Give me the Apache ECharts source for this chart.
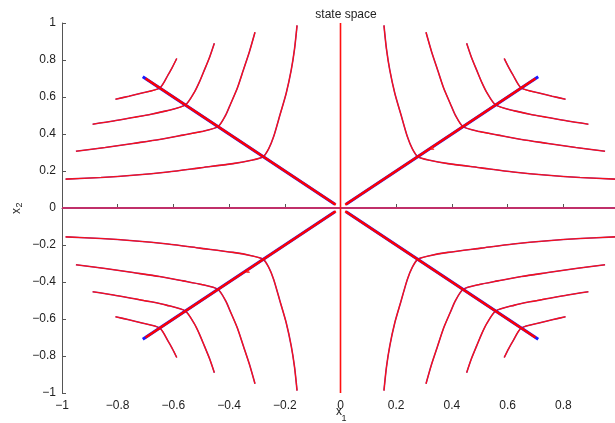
<!DOCTYPE html>
<html>
<head>
<meta charset="utf-8">
<script src="https://cdn.jsdelivr.net/npm/echarts@6/dist/echarts.min.js"></script>
<style>
html,body{margin:0;padding:0;background:#fff;}
#chart{width:615px;height:423px;}
</style>
</head>
<body>
<div id="chart"></div>
<script>
// Axis ranges / ticks
const xRange = [-1, 1];
const yRange = [-1, 1];
const tickStep = 0.2;

// Trajectories, quadrant II (x<0, y>0)
const trajA_Q2 = [[-0.987,0.156],[-0.86,0.165],[-0.745,0.177],[-0.62,0.195],[-0.505,0.217],[-0.386,0.24],[-0.32,0.258],[-0.278,0.277],[-0.258,0.32],[-0.24,0.386],[-0.217,0.505],[-0.195,0.62],[-0.177,0.745],[-0.165,0.86],[-0.156,0.987]];
const trajB_Q2 = [[-0.95,0.307],[-0.845,0.327],[-0.745,0.349],[-0.65,0.37],[-0.565,0.394],[-0.50,0.413],[-0.44,0.44],[-0.413,0.50],[-0.394,0.565],[-0.37,0.65],[-0.349,0.745],[-0.327,0.845],[-0.307,0.95]];
const trajC_Q2 = [[-0.89,0.453],[-0.815,0.47],[-0.745,0.489],[-0.68,0.507],[-0.625,0.525],[-0.557,0.557],[-0.525,0.625],[-0.507,0.68],[-0.489,0.745],[-0.47,0.815],[-0.453,0.89]];
const trajD_Q2 = [[-0.808,0.588],[-0.76,0.604],[-0.72,0.619],[-0.649,0.649],[-0.619,0.72],[-0.604,0.76],[-0.588,0.808]];

// Quadrant I (x>0, y>0)
const trajA_Q1 = [[0.987,0.156],[0.86,0.165],[0.745,0.177],[0.62,0.195],[0.505,0.217],[0.386,0.24],[0.32,0.258],[0.278,0.277],[0.258,0.32],[0.24,0.386],[0.217,0.505],[0.195,0.62],[0.177,0.745],[0.165,0.86],[0.156,0.987]];
const trajB_Q1 = [[0.95,0.307],[0.845,0.327],[0.745,0.349],[0.65,0.37],[0.565,0.394],[0.50,0.413],[0.44,0.44],[0.413,0.50],[0.394,0.565],[0.37,0.65],[0.349,0.745],[0.327,0.845],[0.307,0.95]];
const trajC_Q1 = [[0.89,0.453],[0.815,0.47],[0.745,0.489],[0.68,0.507],[0.625,0.525],[0.557,0.557],[0.525,0.625],[0.507,0.68],[0.489,0.745],[0.47,0.815],[0.453,0.89]];
const trajD_Q1 = [[0.808,0.588],[0.76,0.604],[0.72,0.619],[0.649,0.649],[0.619,0.72],[0.604,0.76],[0.588,0.808]];

// Quadrant III (x<0, y<0)
const trajA_Q3 = [[-0.987,-0.156],[-0.86,-0.165],[-0.745,-0.177],[-0.62,-0.195],[-0.505,-0.217],[-0.386,-0.24],[-0.32,-0.258],[-0.278,-0.277],[-0.258,-0.32],[-0.24,-0.386],[-0.217,-0.505],[-0.195,-0.62],[-0.177,-0.745],[-0.165,-0.86],[-0.156,-0.987]];
const trajB_Q3 = [[-0.95,-0.307],[-0.845,-0.327],[-0.745,-0.349],[-0.65,-0.37],[-0.565,-0.394],[-0.50,-0.413],[-0.44,-0.44],[-0.413,-0.50],[-0.394,-0.565],[-0.37,-0.65],[-0.349,-0.745],[-0.327,-0.845],[-0.307,-0.95]];
const trajC_Q3 = [[-0.89,-0.453],[-0.815,-0.47],[-0.745,-0.489],[-0.68,-0.507],[-0.625,-0.525],[-0.557,-0.557],[-0.525,-0.625],[-0.507,-0.68],[-0.489,-0.745],[-0.47,-0.815],[-0.453,-0.89]];
const trajD_Q3 = [[-0.808,-0.588],[-0.76,-0.604],[-0.72,-0.619],[-0.649,-0.649],[-0.619,-0.72],[-0.604,-0.76],[-0.588,-0.808]];

// Quadrant IV (x>0, y<0)
const trajA_Q4 = [[0.987,-0.156],[0.86,-0.165],[0.745,-0.177],[0.62,-0.195],[0.505,-0.217],[0.386,-0.24],[0.32,-0.258],[0.278,-0.277],[0.258,-0.32],[0.24,-0.386],[0.217,-0.505],[0.195,-0.62],[0.177,-0.745],[0.165,-0.86],[0.156,-0.987]];
const trajB_Q4 = [[0.95,-0.307],[0.845,-0.327],[0.745,-0.349],[0.65,-0.37],[0.565,-0.394],[0.50,-0.413],[0.44,-0.44],[0.413,-0.50],[0.394,-0.565],[0.37,-0.65],[0.349,-0.745],[0.327,-0.845],[0.307,-0.95]];
const trajC_Q4 = [[0.89,-0.453],[0.815,-0.47],[0.745,-0.489],[0.68,-0.507],[0.625,-0.525],[0.557,-0.557],[0.525,-0.625],[0.507,-0.68],[0.489,-0.745],[0.47,-0.815],[0.453,-0.89]];
const trajD_Q4 = [[0.808,-0.588],[0.76,-0.604],[0.72,-0.619],[0.649,-0.649],[0.619,-0.72],[0.604,-0.76],[0.588,-0.808]];

// Axis trajectories
const xAxisTraj = [[-1,0],[1,0]];
const yAxisTraj = [[0,-1],[0,1]];

// Diagonal (stable manifold) lines
const diagBlue = [
  [[-0.71,0.71],[-0.02,0.02]],
  [[0.71,0.71],[0.02,0.02]],
  [[-0.71,-0.71],[-0.02,-0.02]],
  [[0.71,-0.71],[0.02,-0.02]]
];
const diagRed = [
  [[-0.70,0.70],[-0.017,0.017]],
  [[0.70,0.70],[0.017,0.017]],
  [[-0.70,-0.70],[-0.017,-0.017]],
  [[0.70,-0.70],[0.017,-0.017]]
];
// small arrow marks
const arrowMarks = [[0.33,0.325],[-0.332,-0.34]];

const trajectories = [
  trajA_Q1,trajB_Q1,trajC_Q1,trajD_Q1,
  trajA_Q2,trajB_Q2,trajC_Q2,trajD_Q2,
  trajA_Q3,trajB_Q3,trajC_Q3,trajD_Q3,
  trajA_Q4,trajB_Q4,trajC_Q4,trajD_Q4
];

const FONT = '"Liberation Sans", Arial, Helvetica, sans-serif';
const fmt = v => {
  const s = (Math.abs(v) < 1e-9) ? '0' : String(+v.toFixed(1));
  return s.replace('-', '\u2212');
};

const series = [];
trajectories.forEach(t => {
  series.push({type:'line', data:t, showSymbol:false, smooth:0.25, silent:true,
    lineStyle:{color:'#9a2a8a', width:1.6}, z:2});
  series.push({type:'line', data:t, showSymbol:false, smooth:0.25, silent:true,
    lineStyle:{color:'#ff1010', width:1.1}, z:3});
});
series.push({type:'line', data:xAxisTraj, showSymbol:false, silent:true,
  lineStyle:{color:'#c0306a', width:2}, z:3});
series.push({type:'line', data:yAxisTraj, showSymbol:false, silent:true,
  lineStyle:{color:'#ff1010', width:1.6}, z:3});
diagBlue.forEach(d => series.push({type:'line', data:d, showSymbol:false, silent:true,
  lineStyle:{color:'#1a1aff', width:3}, z:4}));
diagRed.forEach(d => series.push({type:'line', data:d, showSymbol:false, silent:true,
  lineStyle:{color:'#ff0000', width:2.4}, z:5}));
series.push({type:'scatter', data:arrowMarks, symbol:'triangle', symbolSize:4, silent:true,
  itemStyle:{color:'#ff2020'}, z:5});

const chart = echarts.init(document.getElementById('chart'), null, {renderer:'canvas'});
chart.setOption({
  animation:false,
  backgroundColor:'#ffffff',
  title:{text:'state space', left:341, top:4, textAlign:'center',
    textStyle:{fontFamily:FONT, fontSize:12, fontWeight:'normal', color:'#222'}},
  grid:{left:62, top:23, width:557, height:370, containLabel:false, outerBoundsMode:'none'},
  xAxis:{type:'value', min:xRange[0], max:xRange[1], interval:tickStep,
    axisLine:{lineStyle:{color:'#555', width:1}},
    axisTick:{inside:true, length:4, lineStyle:{color:'#555'}},
    splitLine:{show:false},
    axisLabel:{formatter:fmt, fontFamily:FONT, fontSize:12, color:'#222', margin:7}},
  yAxis:{type:'value', min:yRange[0], max:yRange[1], interval:tickStep,
    axisLine:{onZero:false, lineStyle:{color:'#555', width:1}},
    axisTick:{inside:true, length:4, lineStyle:{color:'#555'}},
    splitLine:{show:false},
    axisLabel:{formatter:fmt, fontFamily:FONT, fontSize:12, color:'#222', margin:6}},
  graphic:[
    {type:'text', x:339, y:412, style:{text:'x', font:'12px '+FONT, fill:'#222', textAlign:'center', textVerticalAlign:'middle'}},
    {type:'text', x:344, y:419, style:{text:'1', font:'9px '+FONT, fill:'#222', textAlign:'center', textVerticalAlign:'middle'}},
    {type:'text', x:17, y:211, rotation:Math.PI/2, style:{text:'x', font:'12px '+FONT, fill:'#222', textAlign:'center', textVerticalAlign:'middle'}},
    {type:'text', x:20, y:205, rotation:Math.PI/2, style:{text:'2', font:'9px '+FONT, fill:'#222', textAlign:'center', textVerticalAlign:'middle'}}
  ],
  series:series
});
</script>
</body>
</html>
